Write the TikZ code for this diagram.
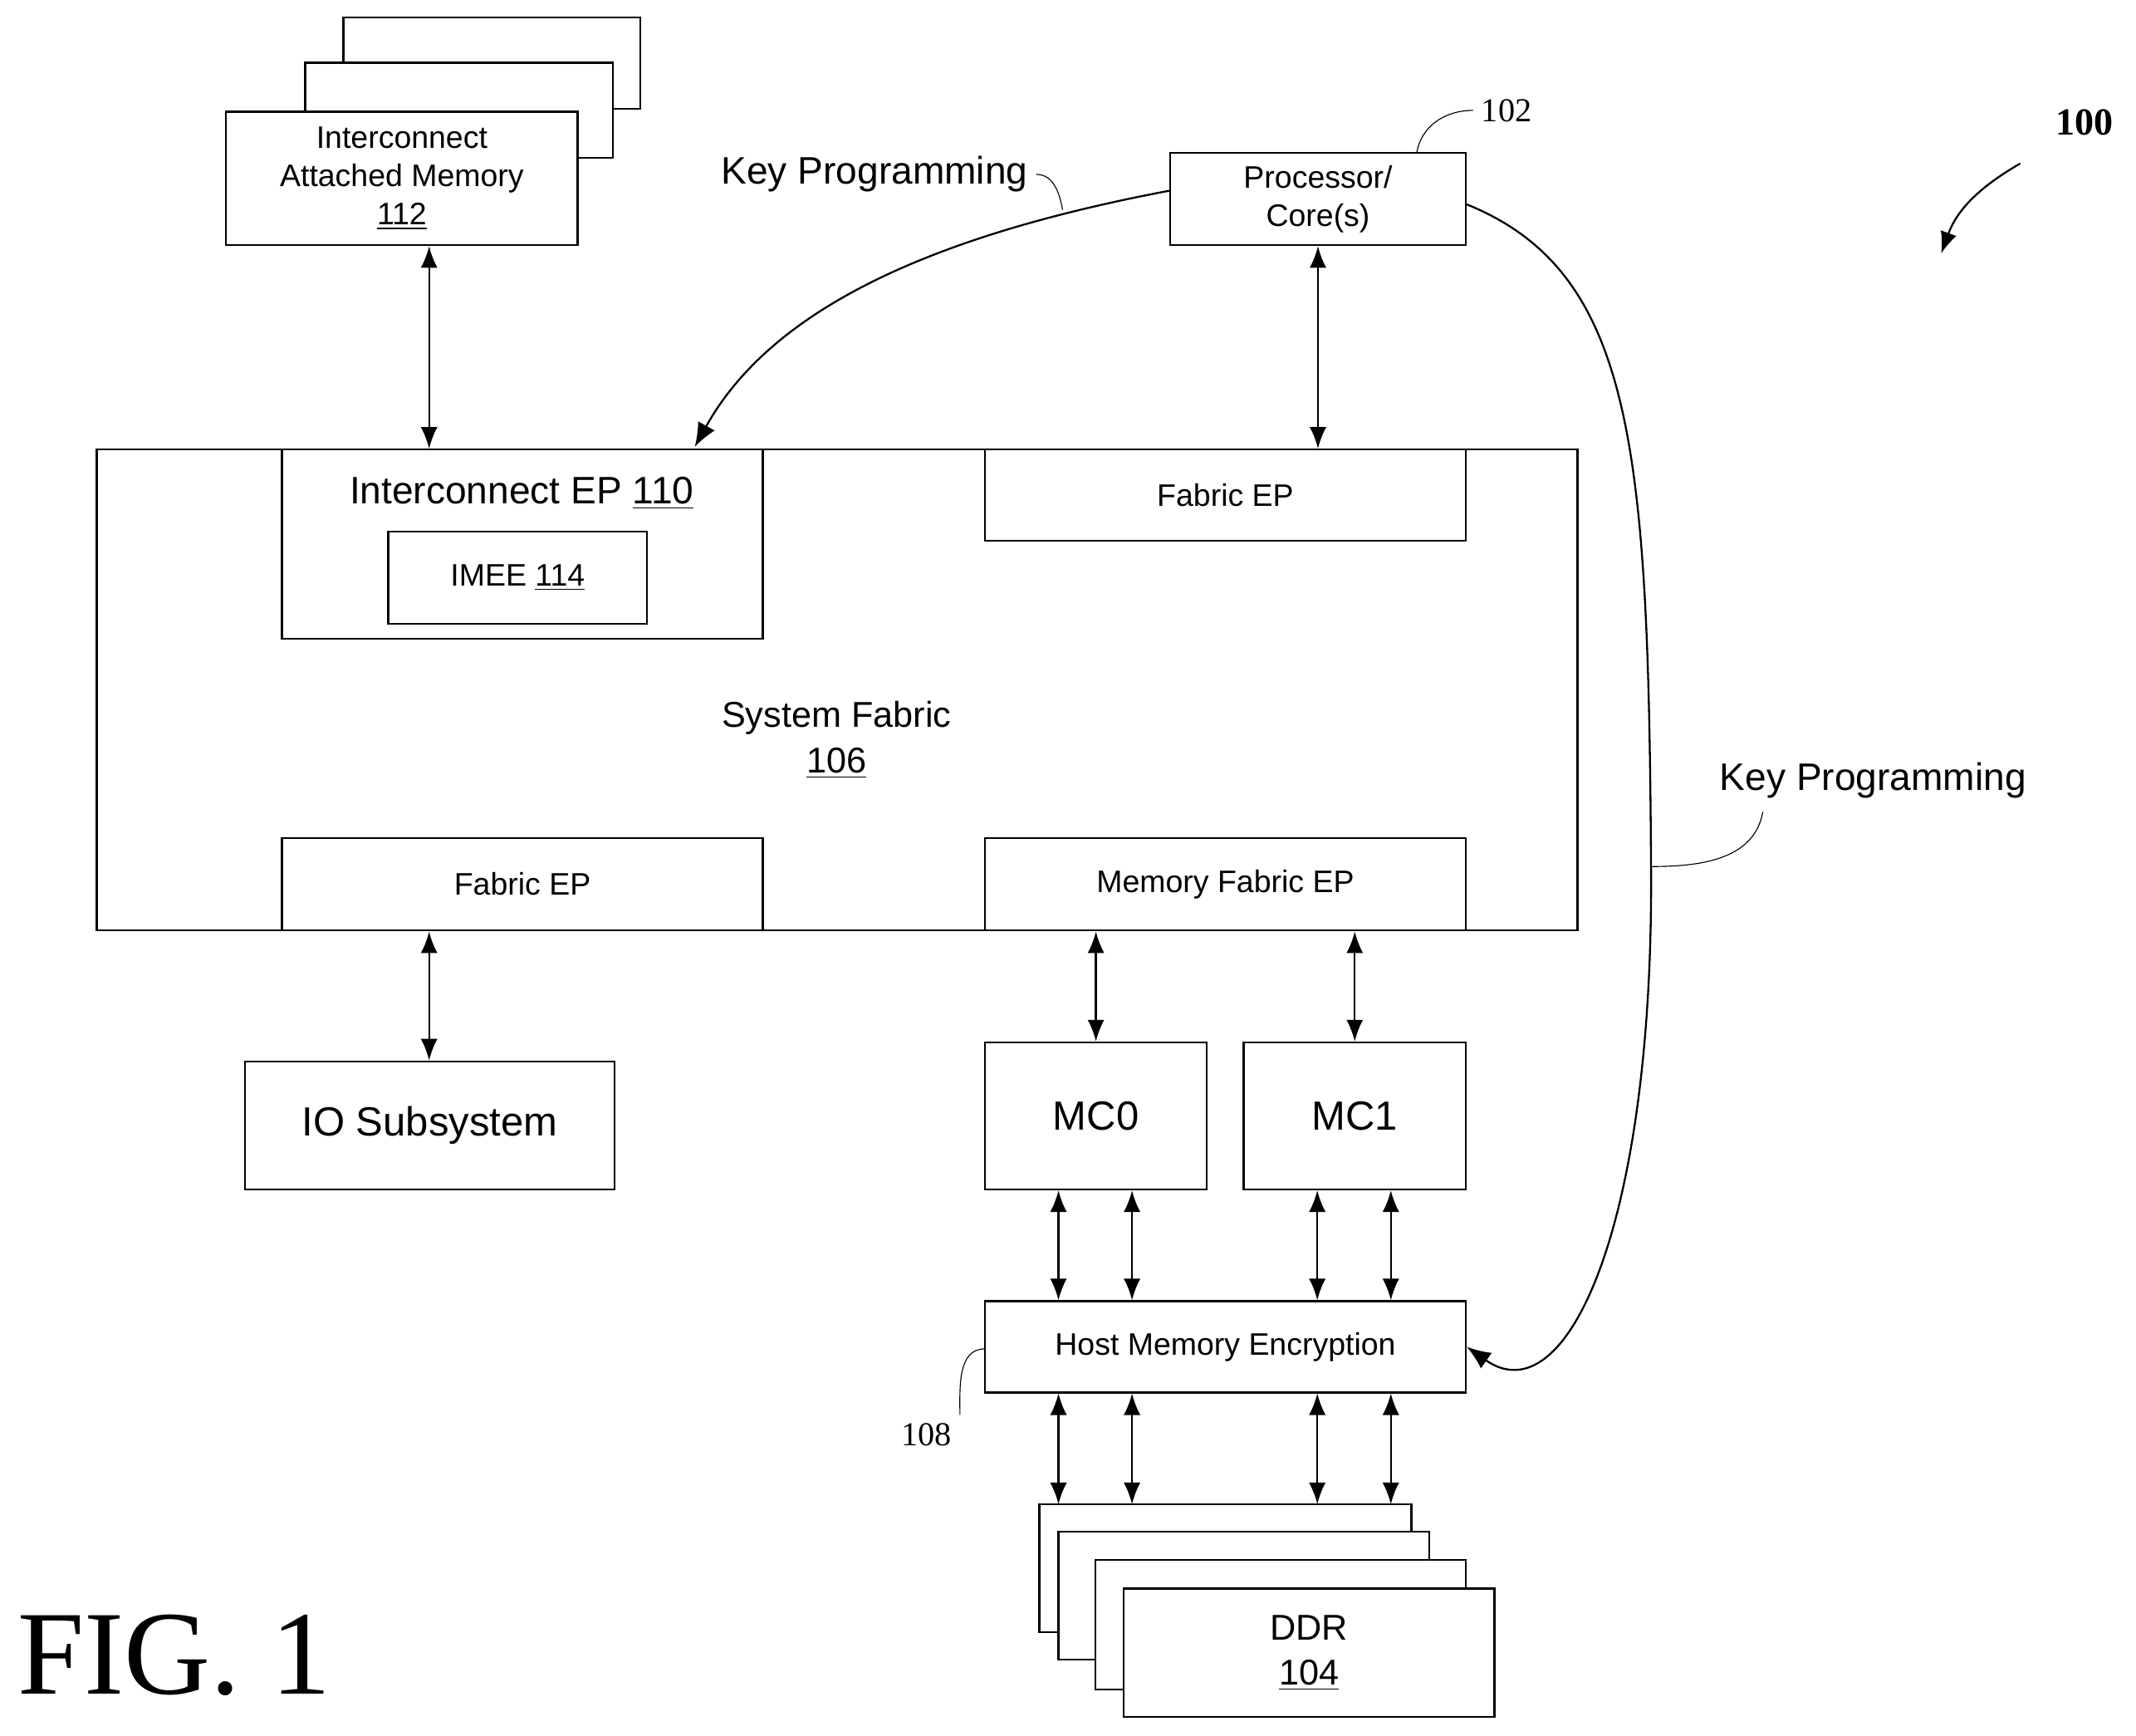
\documentclass[tikz,border=0pt]{standalone}
\usepackage{fontspec}
\setmainfont{Liberation Sans}
\newfontfamily\serifnum{Liberation Serif}
\usetikzlibrary{arrows.meta}
\tikzset{blk/.style={draw,thick,fill=white,align=center,inner sep=0pt}}
\tikzset{biarrow/.style={thick,{Latex[length=9pt,width=7pt]}-{Latex[length=9pt,width=7pt]}}}
\tikzset{lead/.style={thin}}
\newcommand{\blkbox}[4]{\draw[thick,fill=white] (#1,#2) rectangle (#3,#4);}
\begin{document}
\begin{tikzpicture}[x=0.02cm,y=-0.02cm,font=\fontsize{13}{16}\selectfont]
  \useasboundingbox (0,0) rectangle (1568,1274);
  % interconnect attached memory stack
  \blkbox{252}{13}{470}{80}
  \blkbox{224}{46}{450}{116}
  \node[blk,minimum width=258*0.02cm,minimum height=98*0.02cm] (iam) at (295,131) {Interconnect\\Attached Memory\\\underline{112}};
  % processor
  \node[blk,minimum width=217*0.02cm,minimum height=68*0.02cm] (proc) at (967.5,146) {Processor/\\Core(s)};
  \node[font=\serifnum\fontsize{14}{16}\selectfont] (n102) at (1106,81) {102};
  \draw[lead] (1040,112) to[out=80,in=180] (n102.west);
  \node[font=\serifnum\bfseries\fontsize{16}{18}\selectfont] (n100) at (1530,90) {100};
  \coordinate (a100) at (1425,186);
  \draw[thick,-{Latex[length=9pt,width=7pt]}] (1483,120) to[out=-150,in=70] (a100);
  % system fabric
  \node[blk,minimum width=1087*0.02cm,minimum height=353*0.02cm] (fab) at (614.5,506.5) {};
  \node[align=center,font=\fontsize{15}{19}\selectfont] (fabl) at (614,543) {System Fabric\\\underline{106}};
  \node[blk,minimum width=353*0.02cm,minimum height=139*0.02cm] (iep) at (383.5,399.5) {};
  \node[font=\fontsize{16}{18}\selectfont] (iepl) at (383,362) {Interconnect EP \underline{110}};
  \node[blk,minimum width=190*0.02cm,minimum height=68*0.02cm] (imee) at (380,424) {IMEE \underline{114}};
  \node[blk,minimum width=353*0.02cm,minimum height=67*0.02cm] (fept) at (899.5,363.5) {Fabric EP};
  \node[blk,minimum width=353*0.02cm,minimum height=68*0.02cm] (fepb) at (383.5,649) {Fabric EP};
  \node[blk,minimum width=353*0.02cm,minimum height=68*0.02cm] (mfep) at (899.5,649) {Memory Fabric EP};
  % lower blocks
  \node[blk,minimum width=271*0.02cm,minimum height=94*0.02cm,font=\fontsize{17}{20}\selectfont] (io) at (315.5,826) {IO Subsystem};
  \node[blk,minimum width=163*0.02cm,minimum height=108*0.02cm,font=\fontsize{17}{20}\selectfont] (mc0) at (804.5,819) {MC0};
  \node[blk,minimum width=163*0.02cm,minimum height=108*0.02cm,font=\fontsize{17}{20}\selectfont] (mc1) at (994.5,819) {MC1};
  \node[blk,minimum width=353*0.02cm,minimum height=67*0.02cm] (hme) at (899.5,988.5) {Host Memory Encryption};
  \node[font=\serifnum\fontsize{14}{16}\selectfont] (n108) at (680,1053) {108};
  \draw[lead] (723,990) to[out=180,in=90] (n108.north east);
  % DDR stack
  \blkbox{763}{1104}{1036}{1198}
  \blkbox{777}{1124}{1049}{1218}
  \blkbox{804}{1145}{1076}{1240}
  \node[blk,minimum width=272*0.02cm,minimum height=94*0.02cm,font=\fontsize{15}{19}\selectfont] (ddr) at (961,1213) {DDR\\\underline{104}};
  \node[font=\serifnum\fontsize{50}{52}\selectfont] (fig) at (128,1215) {FIG. 1};
  % connectors
  \draw[biarrow] (iam.south -| 315,0) -- (iep.north -| 315,0);
  \draw[biarrow] (proc.south) -- (fept.north -| proc.south);
  \draw[biarrow] (fepb.south -| 315,0) -- (io.north -| 315,0);
  \draw[biarrow] (mfep.south -| mc0.north) -- (mc0.north);
  \draw[biarrow] (mfep.south -| mc1.north) -- (mc1.north);
  \foreach \x in {777,831} {
    \draw[biarrow] (mc0.south -| \x,0) -- (hme.north -| \x,0);
    \draw[biarrow] (hme.south -| \x,0) -- (\x,1104);
  }
  \foreach \x in {967,1021} {
    \draw[biarrow] (mc1.south -| \x,0) -- (hme.north -| \x,0);
    \draw[biarrow] (hme.south -| \x,0) -- (\x,1104);
  }
  % key programming
  \draw[thick,-{Latex[length=10pt,width=8pt]}] (proc.west |- 0,140) .. controls (700,170) and (570,220) .. (510,328);
  \node[font=\fontsize{16}{18}\selectfont] (kp1) at (642,128) {Key Programming};
  \draw[lead] (kp1.east) to[out=0,in=100] (780,154);
  \draw[thick,-{Latex[length=10pt,width=8pt]}] (proc.east |- 0,150) .. controls (1200,200) and (1210,330) .. (1212,636)
     .. controls (1214,900) and (1150,1040) .. (hme.east);
  \node[font=\fontsize{16}{18}\selectfont] (kp2) at (1375,573) {Key Programming};
  \draw[lead] (1294,596) to[out=-100,in=0] (1212,636);
\end{tikzpicture}
\end{document}
